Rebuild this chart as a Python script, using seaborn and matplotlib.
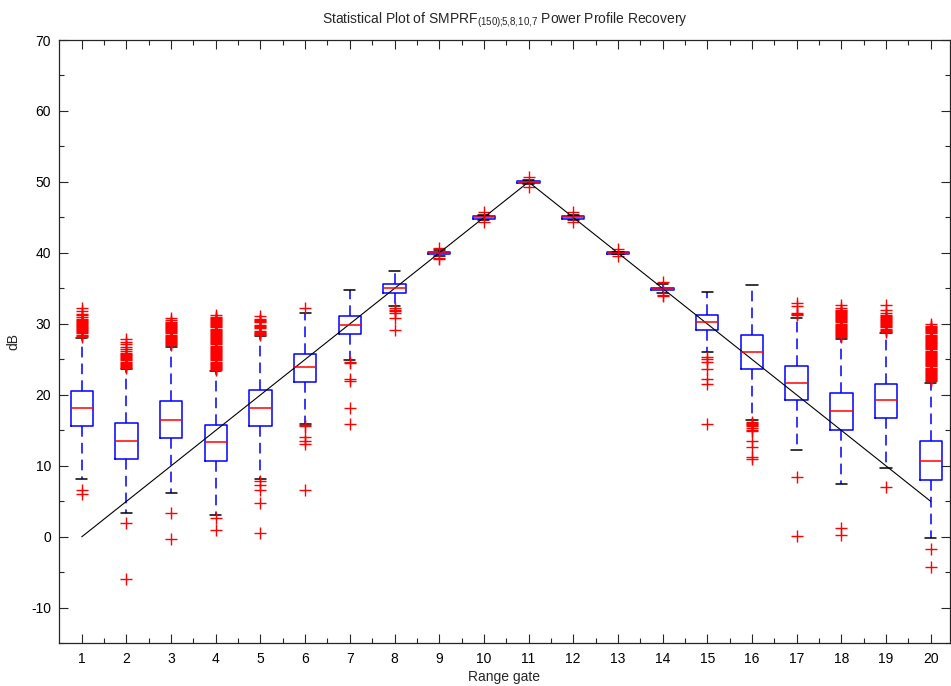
import numpy as np
import pandas as pd
import seaborn as sns
import matplotlib
matplotlib.use("Agg")
import matplotlib.pyplot as plt
from matplotlib.ticker import MultipleLocator, FixedLocator

# ---- data ----
gates = list(range(1, 21))
q1  = [15.6, 11.0, 13.9, 10.7, 15.6, 21.8, 28.6, 34.3, 39.85, 44.85, 49.85, 44.85, 39.9, 34.75, 29.1, 23.6, 19.3, 15.0, 16.8, 8.0]
med = [18.2, 13.5, 16.5, 13.3, 18.2, 23.9, 29.9, 35.0, 40.0, 45.0, 50.0, 45.0, 40.0, 34.9, 30.2, 26.1, 21.7, 17.7, 19.3, 10.7]
q3  = [20.6, 16.1, 19.1, 15.8, 20.7, 25.8, 31.1, 35.6, 40.15, 45.15, 50.15, 45.15, 40.1, 35.1, 31.3, 28.5, 24.0, 20.2, 21.6, 13.5]
wlo = [8.2, 3.4, 6.2, 3.1, 8.2, 15.9, 24.9, 32.5, 39.6, 44.7, 49.7, 44.7, 39.8, 34.3, 26.0, 16.5, 12.3, 7.4, 9.7, -0.2]
whi = [28.0, 23.6, 26.8, 23.4, 28.3, 31.6, 34.8, 37.4, 40.4, 45.3, 50.3, 45.3, 40.2, 35.6, 34.5, 35.5, 30.9, 27.9, 28.7, 21.7]
outliers = [
    [6.6, 6.0,
     28.2, 28.35, 28.5, 28.65, 28.8, 28.95, 29.1, 29.25, 29.4, 29.55, 29.7, 29.85, 30.0, 30.15, 30.3, 30.45,
     30.6, 30.75, 31.0, 31.2, 31.4, 31.8, 32.3],
    [1.9, -6.0,
     23.8, 23.95, 24.1, 24.25, 24.4, 24.55, 24.7, 24.85, 25.0, 25.15, 25.3, 25.45, 25.6, 25.75, 25.9, 26.2,
     26.5, 26.8, 27.1, 27.4, 27.9],
    [3.3, -0.3,
     27.0, 27.15, 27.3, 27.45, 27.6, 27.75, 27.9, 28.05, 28.2, 28.35, 28.5, 28.65, 28.8, 28.95, 29.1, 29.25,
     29.4, 29.55, 29.7, 29.85, 30.0, 30.15, 30.3, 30.6, 30.9],
    [2.7, 0.9,
     23.5, 23.65, 23.8, 23.95, 24.1, 24.25, 24.4, 24.55, 24.7, 24.85, 25.0, 25.15, 25.3, 25.45, 25.6, 25.75,
     25.9, 26.05, 26.2, 26.35, 26.5, 26.65, 26.8, 26.95, 27.1, 27.25, 27.4, 27.55, 27.7, 27.85, 28.0, 28.15,
     28.3, 28.45, 28.6, 28.75, 28.9, 29.05, 29.2, 29.35, 29.5, 29.65, 29.8, 29.95, 30.1, 30.25, 30.4, 30.55,
     30.7, 30.85, 31.0, 31.3],
    [7.9, 7.3, 6.6, 4.8, 0.5,
     28.4, 28.55, 28.7, 28.85, 29.0, 29.4, 29.55, 29.7, 29.85, 30.2, 30.35, 30.5, 30.65, 31.1],
    [15.7, 15.6, 14.0, 13.5, 13.1, 6.6, 32.3],
    [24.7, 24.5, 22.3, 21.9, 18.2, 15.9],
    [32.2, 32.0, 31.8, 31.6, 30.9, 29.1],
    [40.7, 39.3, 39.2],
    [45.7, 44.3],
    [50.7, 49.3],
    [45.7, 44.3],
    [40.5, 39.5],
    [35.9, 34.1, 34.0],
    [25.3, 25.0, 24.6, 23.7, 22.2, 21.5, 15.9],
    [16.2, 16.05, 15.9, 15.75, 15.6, 15.4, 15.1, 14.9, 13.5, 12.7, 11.2, 11.0],
    [31.2, 31.4, 31.6, 32.5, 32.9, 8.4, 0.1],
    [1.3, 0.2,
     28.1, 28.25, 28.4, 28.55, 28.7, 28.85, 29.0, 29.15, 29.3, 29.45, 29.6, 29.75, 29.9, 30.05, 30.2, 30.35,
     30.5, 30.65, 30.8, 30.95, 31.1, 31.25, 31.4, 31.55, 31.7, 31.85, 32.0, 32.3, 32.6],
    [7.0,
     28.9, 29.05, 29.2, 29.35, 29.5, 29.65, 29.8, 29.95, 30.1, 30.25, 30.4, 30.55, 30.7, 30.85, 31.0, 31.15,
     31.3, 31.5, 31.9, 32.6],
    [-1.7, -4.3,
     21.9, 22.05, 22.2, 22.35, 22.5, 22.65, 22.8, 22.95, 23.1, 23.25, 23.4, 23.55, 23.7, 23.85, 24.0, 24.15,
     24.3, 24.45, 24.6, 24.75, 24.9, 25.05, 25.2, 25.35, 25.5, 25.65, 25.8, 25.95, 26.1, 26.25, 26.4, 26.55,
     26.7, 26.85, 27.0, 27.15, 27.3, 27.45, 27.6, 27.75, 27.9, 28.05, 28.2, 28.35, 28.5, 28.65, 28.8, 28.95,
     29.1, 29.25, 29.4, 29.55, 29.7, 30.0],
]
true_profile = [0, 5, 10, 15, 20, 25, 30, 35, 40, 45, 50, 45, 40, 35, 30, 25, 20, 15, 10, 5]

title = r"Statistical Plot of SMPRF$_{(150);\!\!5{,}8{,}10{,}7}$ Power Profile Recovery"
xlabel = "Range gate"
ylabel = "dB"

# ---- long-form table reproducing the read box statistics ----
K = 200
rows = []
for i, g in enumerate(gates):
    vals = [wlo[i], whi[i]] + [q1[i]] * K + [med[i]] * K + [q3[i]] * K + outliers[i]
    rows += [(g, v) for v in vals]
df = pd.DataFrame(rows, columns=["gate", "dB"])

sns.set_theme(style="ticks")
plt.rcParams["font.family"] = ["Liberation Sans", "DejaVu Sans"]
plt.rcParams["axes.unicode_minus"] = False
plt.rcParams["mathtext.fontset"] = "custom"
plt.rcParams["mathtext.rm"] = "Liberation Sans"
plt.rcParams["mathtext.it"] = "Liberation Sans"

W, H = 951, 686
fig = plt.figure(figsize=(W / 100, H / 100), dpi=100)
left_px, right_px, top_px, bot_px = 59.4, 949.5, 40.0, 643.3
ax = fig.add_axes([left_px / W, 1 - bot_px / H, (right_px - left_px) / W, (bot_px - top_px) / H])

sns.boxplot(
    data=df, x="gate", y="dB", native_scale=True, fill=False, width=0.5, whis=1.5, ax=ax,
    boxprops=dict(color="blue", linewidth=1.1),
    medianprops=dict(color="red", linewidth=1.1),
    whiskerprops=dict(color="blue", linewidth=1.1, linestyle=(0, (7, 4))),
    capprops=dict(color="black", linewidth=1.1),
    flierprops=dict(marker="+", markeredgecolor="red", markerfacecolor="red",
                    markersize=8, markeredgewidth=1.0, linestyle="none"),
)
sns.lineplot(x=gates, y=true_profile, color="black", linewidth=0.8, ax=ax)

ax.set_xlim(0.5, 20 + (right_px - 930.7) / 44.68)
ax.set_ylim(-15, 70)
ax.xaxis.set_major_locator(FixedLocator(gates))
ax.xaxis.set_minor_locator(FixedLocator([g + 0.5 for g in gates]))
ax.yaxis.set_major_locator(MultipleLocator(10))
ax.yaxis.set_minor_locator(MultipleLocator(5))
ax.set_xticklabels([str(g) for g in gates])
ax.tick_params(which="both", direction="in", top=True, right=True, colors="#262626",
               labelcolor="black", labelsize=10, width=0.8)
ax.tick_params(which="major", length=6.5, pad=6)
ax.tick_params(which="minor", length=3.5)
for s in ax.spines.values():
    s.set_visible(True)
    s.set_color("#262626")
    s.set_linewidth(0.9)
ax.set_xlabel(xlabel, fontsize=10, labelpad=3)
ax.set_ylabel(ylabel, fontsize=10, labelpad=8)
ax.set_title(title, fontsize=10, pad=12)

fig.savefig("out.png", dpi=100)
